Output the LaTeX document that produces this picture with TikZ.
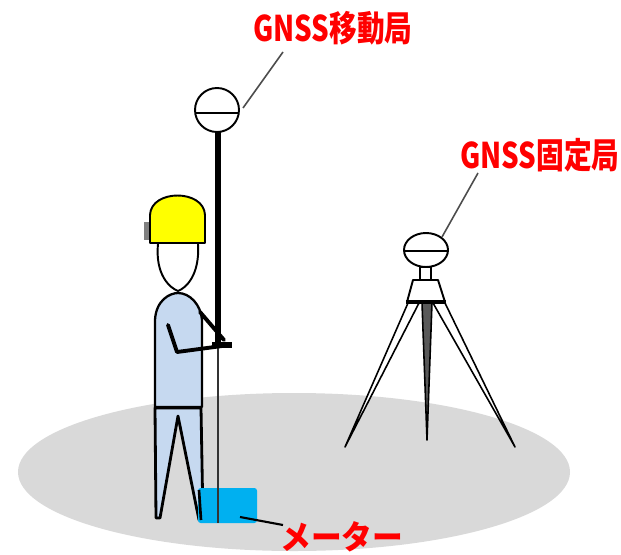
\documentclass[tikz,border=0pt]{standalone}
\usepackage{fontspec}
\newfontfamily\jpfont{Noto Sans CJK JP}
\usetikzlibrary{positioning}
\definecolor{ground}{HTML}{D9D9D9}
\definecolor{suit}{HTML}{C6D9F0}
\definecolor{meterblue}{HTML}{00B0F0}
\definecolor{helmet}{HTML}{FFFF00}

\begin{document}
\begin{tikzpicture}[x=0.02cm, y=-0.02cm,
  redtext/.style={text=red, font=\jpfont\bfseries\fontsize{17.5}{18}\selectfont, inner sep=0pt, anchor=west, yscale=1.15},
  leader/.style={draw=black!70, line width=0.9pt},
  outline/.style={draw=black, line width=1.1pt, line join=round}]
\useasboundingbox (0,0) rectangle (621,554);

% ground
\fill[ground] (294,472) ellipse [x radius=276, y radius=79];

% labels
\node[redtext, xscale=0.9] (roverlbl) at (253,28) {GNSS移動局};
\node[redtext, xscale=0.9] (baselbl) at (460,155) {GNSS固定局};
\node[redtext, yscale=0.93] (meterlbl) at (280,537) {メーター};

% tripod legs
\filldraw[fill=white, draw=black, line width=0.9pt, line join=round] (408,303) -- (345,447) -- (419,303);
\filldraw[fill=white, draw=black, line width=0.9pt, line join=round] (433,303) -- (515,447) -- (445,303);
\filldraw[fill=black!65, draw=black, line width=0.9pt, line join=round] (422,303) -- (427,440) -- (432,303);
% tripod head
\filldraw[outline, fill=white] (407,302) -- (413,280) -- (438,280) -- (445,302) -- cycle;
\draw[line width=1.8pt] (406,302) -- (446,302);
\filldraw[outline, fill=white] (420,267) rectangle (431,280);
% fixed antenna
\filldraw[outline, fill=white] (426,250) ellipse [x radius=22, y radius=17];
\draw[line width=1.4pt] (404,251) -- (448,251);
\coordinate (baseant) at (442,237);
\coordinate (baseend) at (478,173);
\draw[leader] (baseant) -- (baseend);

% rover pole and antenna
\draw[line width=3.4pt] (218,131) -- (218,345);
\draw[black!80, line width=0.8pt] (218,345) -- (218,523);
\filldraw[outline, fill=white] (217,110) ellipse [x radius=22, y radius=22];
\draw[line width=1.6pt] (195,113) -- (239,113);
\coordinate (roverant) at (243,108);
\coordinate (roverend) at (283,52);
\draw[leader] (roverant) -- (roverend);

% worker: helmet and face
\fill[black!50] (144,222) rectangle (151,240);
\filldraw[outline, fill=helmet] (150,243) -- (150,215) .. controls (151,189) and (204,189) .. (205,215) -- (205,243) -- cycle;
\filldraw[outline, fill=white] (158,244) .. controls (155,275) and (170,288) .. (178,291)
  .. controls (186,288) and (200,275) .. (198,244);

% worker: legs and body
\filldraw[outline, fill=suit, line width=1.6pt] (155,408) -- (201,408) -- (203,520) -- (199,520)
  -- (178,416) -- (160,518) -- (156,518) -- cycle;
\filldraw[outline, fill=suit, line width=1.3pt] (155,407) -- (155,320) .. controls (156,300) and (170,293) .. (178,293)
  .. controls (190,293) and (201,305) .. (202,320) -- (202,407) -- cycle;
\draw[line width=2.2pt, line cap=round, line join=round] (200,312) -- (224,340);
\draw[line width=2.2pt, line cap=round, line join=round] (168,325) -- (177,352) -- (222,346);
\draw[line width=3pt] (212,345) -- (232,345);

% meter
\fill[meterblue, rounded corners=1.5pt] (198,488) rectangle (257,523);
\draw[black!80, line width=0.8pt] (218,488) -- (218,523);
\draw[line width=1.5pt] (199,490) -- (201,520);
\coordinate (meterpt) at (240,517);
\coordinate (meterend) at (283,525);
\draw[line width=1.2pt] (meterpt) -- (meterend);
\end{tikzpicture}
\end{document}
